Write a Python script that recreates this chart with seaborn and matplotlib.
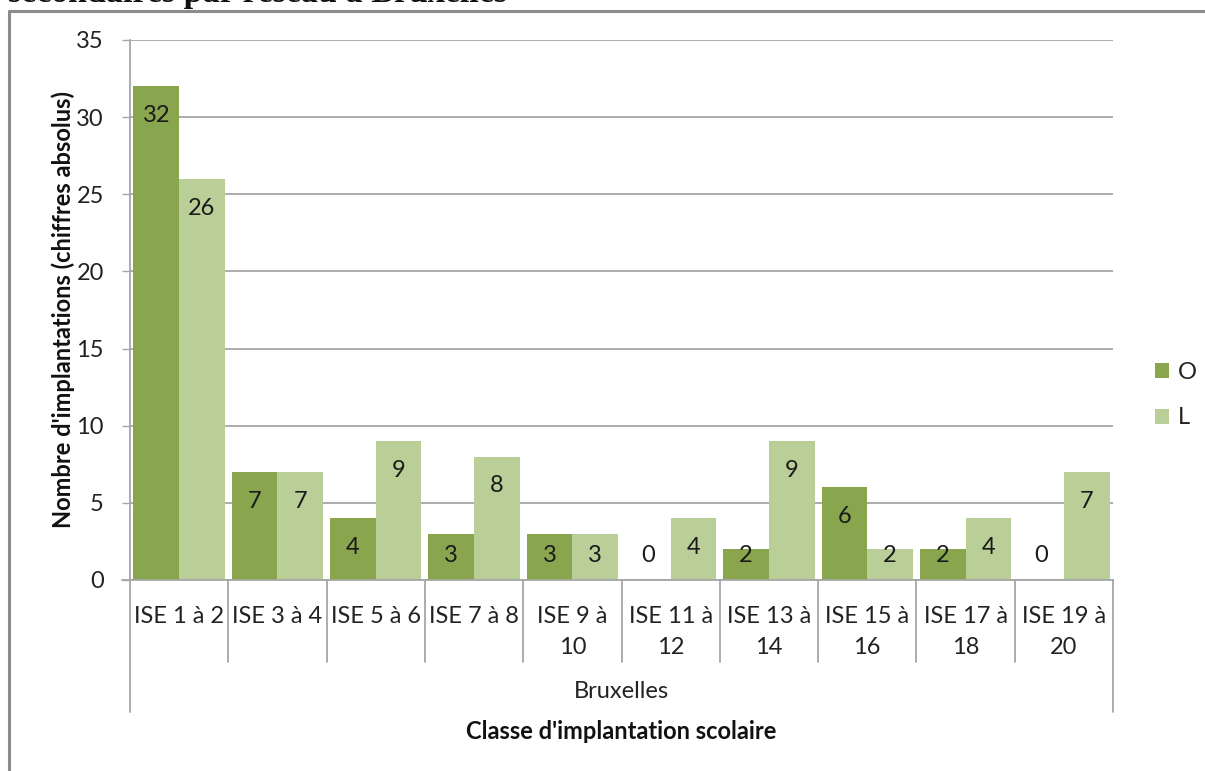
import matplotlib
matplotlib.use("Agg")
import matplotlib.pyplot as plt
import matplotlib.transforms as mtransforms
from matplotlib.lines import Line2D
import seaborn as sns
import pandas as pd

# Categories and counts per network
classes = ["ISE 1 à 2", "ISE 3 à 4", "ISE 5 à 6", "ISE 7 à 8", "ISE 9 à\n10",
           "ISE 11 à\n12", "ISE 13 à\n14", "ISE 15 à\n16", "ISE 17 à\n18", "ISE 19 à\n20"]
reseaux = ["O", "L"]
valeurs_O = [32, 7, 4, 3, 3, 0, 2, 6, 2, 0]
valeurs_L = [26, 7, 9, 8, 3, 4, 9, 2, 4, 7]
region = "Bruxelles"

titre = "secondaires par réseau à Bruxelles"
y_titre = "Nombre d'implantations (chiffres absolus)"
x_titre = "Classe d'implantation scolaire"

df = pd.DataFrame({
    "classe": classes * 2,
    "reseau": ["O"] * len(classes) + ["L"] * len(classes),
    "n": valeurs_O + valeurs_L,
})

sns.set_theme(style="white")
plt.rcParams["font.family"] = ["Lato", "DejaVu Sans"]

W, H = 1205, 771
fig = plt.figure(figsize=(W / 100, H / 100), dpi=100)
ax = fig.add_axes([130 / W, 1 - 580 / H, (1113 - 130) / W, (580 - 40) / H])

dark, light = "#89a54e", "#b9cf97"
sns.barplot(data=df, x="classe", y="n", hue="reseau", hue_order=reseaux,
            palette=[dark, light], saturation=1, width=0.93, gap=0,
            linewidth=0, ax=ax, legend=True)

ax.set_xlim(-0.5, len(classes) - 0.5)
ax.set_ylim(0, 35)
ax.set_yticks(range(0, 36, 5))
grid_c = "#a6a6a6"
ax.yaxis.grid(True, color=grid_c, linewidth=1.3)
ax.set_axisbelow(True)
for s in ["top", "right"]:
    ax.spines[s].set_visible(False)
for s in ["left", "bottom"]:
    ax.spines[s].set_color(grid_c)
    ax.spines[s].set_linewidth(1.3)

ax.tick_params(axis="y", length=5.8, width=1.0, color=grid_c, pad=13,
               labelsize=17, labelcolor="#222222", left=True)
ax.tick_params(axis="x", length=0, pad=19, labelsize=17, labelcolor="#222222")
ax.set_xticks(range(len(classes)))
ax.set_xticklabels(classes, linespacing=1.55, va="top", ha="center")
ax.set_xlabel("")
ax.set_ylabel(y_titre, fontsize=17, fontweight="bold", color="#111111", labelpad=1)

# value labels inside the top of each bar
for cont in ax.containers:
    for rect, v in zip(cont.patches, cont.datavalues):
        yc = max(v - 1.9, 1.6)
        ax.text(rect.get_x() + rect.get_width() / 2, yc, f"{v:.0f}",
                ha="center", va="center", fontsize=17, color="#1a1a1a")

# category separators and outer group lines under the axis
trans = mtransforms.blended_transform_factory(ax.transData, ax.transAxes)
for i in range(len(classes) + 1):
    xb = i - 0.5
    y_end = -0.244 if i in (0, len(classes)) else -0.152
    ax.plot([xb, xb], [0, y_end], transform=trans, color=grid_c,
            linewidth=1.3, clip_on=False)
# short extension of the baseline to the left
ax.plot([-0.58, -0.5], [0, 0], color=grid_c, linewidth=1.3, clip_on=False)

ax.text(0.5, -0.207, region, transform=ax.transAxes, ha="center", va="center",
        fontsize=17, color="#222222")
ax.text(0.5, -0.28, x_titre, transform=ax.transAxes, ha="center", va="center",
        fontsize=17, fontweight="bold", color="#111111")

# legend on the right
leg = ax.get_legend()
handles = leg.legend_handles
leg.remove()
fig.legend(handles, reseaux, loc="center left",
           bbox_to_anchor=(1155 / W, 1 - 395 / H), frameon=False,
           borderpad=0, borderaxespad=0,
           fontsize=17, handlelength=0.6, handleheight=0.6, handletextpad=0.35,
           labelspacing=1.05, labelcolor="#222222")

# outer chart frame
fc = "#8c8c8c"
fig.add_artist(Line2D([9 / W, 9 / W], [0, 1 - 11 / H], transform=fig.transFigure,
                      color=fc, linewidth=2.2))
fig.add_artist(Line2D([9 / W, 1], [1 - 11 / H, 1 - 11 / H], transform=fig.transFigure,
                      color=fc, linewidth=2.2))

# heading partly outside the canvas
fig.text(8 / W, 1 - 2 / H, titre, ha="left", va="baseline", fontsize=24.5,
         fontweight="bold", family=["Liberation Serif", "DejaVu Serif"], color="#111111")

fig.savefig("out.png", dpi=100)
